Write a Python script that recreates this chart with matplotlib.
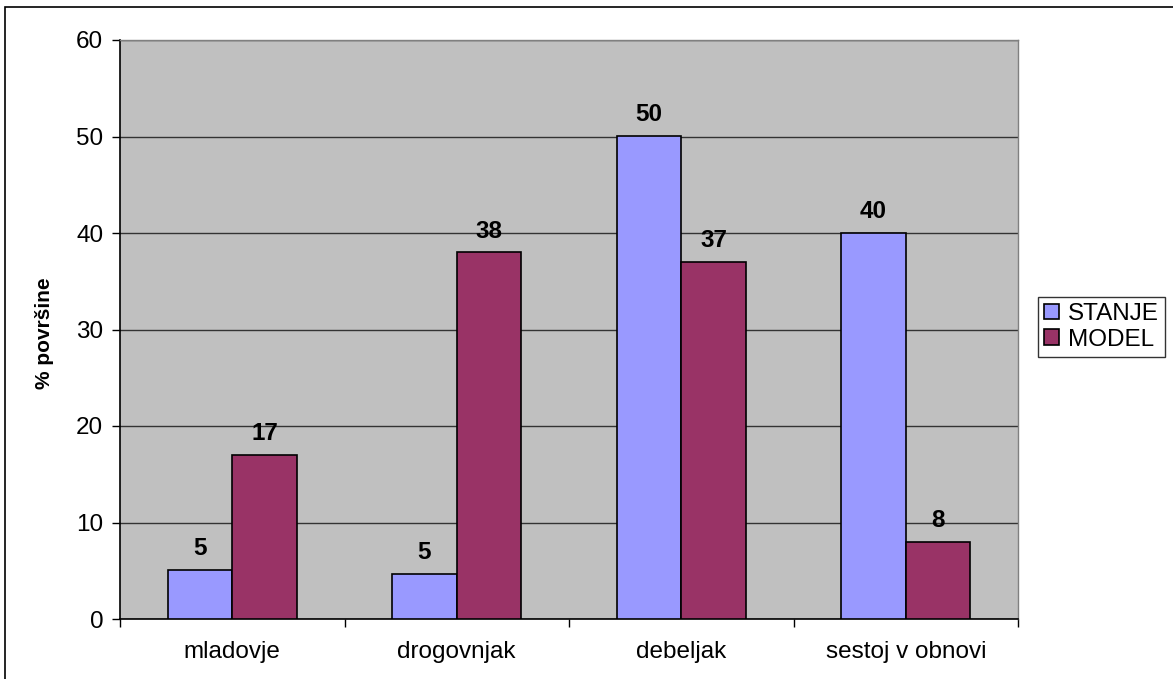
import matplotlib
matplotlib.use("Agg")
import matplotlib.pyplot as plt
from matplotlib.patches import Rectangle
import numpy as np

plt.rcParams['font.family'] = ['Liberation Sans', 'DejaVu Sans']

categories = ['mladovje', 'drogovnjak', 'debeljak', 'sestoj v obnovi']
stanje = [5.1, 4.7, 50.1, 40.0]
model = [17.0, 38.0, 37.0, 8.0]
stanje_labels = ['5', '5', '50', '40']
model_labels = ['17', '38', '37', '8']
series = ['STANJE', 'MODEL']
colors = ['#9999FF', '#993366']

W, H = 1173, 679
fig = plt.figure(figsize=(W / 100, H / 100), dpi=100)

# outer chart border (left/top visible, right/bottom run off the image)
fig.patches.append(Rectangle((5 / W, -0.01), 1.1, 1 - 7 / H + 0.01,
                             transform=fig.transFigure, fill=False,
                             edgecolor='black', linewidth=1.2))

ax = fig.add_axes([120 / W, 1 - 619 / H, (1018 - 120) / W, (619 - 40) / H])
ax.set_facecolor('#C0C0C0')

x = np.arange(len(categories))
w = 0.288
b1 = ax.bar(x - w / 2, stanje, w, color=colors[0], edgecolor='black',
            linewidth=1.2, label=series[0], zorder=3)
b2 = ax.bar(x + w / 2, model, w, color=colors[1], edgecolor='black',
            linewidth=1.2, label=series[1], zorder=3)

for bars, labs in ((b1, stanje_labels), (b2, model_labels)):
    for r, t in zip(bars, labs):
        ax.annotate(t, (r.get_x() + r.get_width() / 2, r.get_height()),
                    xytext=(0, 7), textcoords='offset points',
                    ha='center', va='bottom', fontsize=17.5, fontweight='bold')

ax.set_ylim(0, 60)
ax.set_xlim(-0.5, len(categories) - 0.5)
ax.set_yticks(np.arange(0, 61, 10))
ax.yaxis.grid(True, color='#333333', linewidth=1.0, zorder=1)
ax.set_axisbelow(True)

ax.set_xticks(x)
ax.set_xticklabels(categories)
ax.set_xticks(np.arange(-0.5, len(categories), 1), minor=True)
ax.tick_params(axis='x', which='major', length=0, pad=16, labelsize=17.5)
ax.tick_params(axis='x', which='minor', length=6, width=1, direction='out')
ax.tick_params(axis='y', length=6, width=1, direction='out', pad=6, labelsize=17.5)

for s in ('left', 'bottom'):
    ax.spines[s].set_color('black')
    ax.spines[s].set_linewidth(1.2)
for s in ('top', 'right'):
    ax.spines[s].set_color('#808080')
    ax.spines[s].set_linewidth(1.0)

fig.text(45 / W, 1 - 333 / H, '% površine', rotation=90, ha='center',
         va='center', fontsize=15, fontweight='bold')

leg = ax.legend(loc='upper left', bbox_to_anchor=(1038 / W, 1 - 297 / H),
                bbox_transform=fig.transFigure, fontsize=17.5, frameon=True,
                fancybox=False, edgecolor='black', handlelength=0.6,
                handleheight=0.6, handletextpad=0.4, borderpad=0.25,
                labelspacing=0.15, borderaxespad=0)
leg.get_frame().set_linewidth(1.0)

fig.savefig('out.png', dpi=100)
